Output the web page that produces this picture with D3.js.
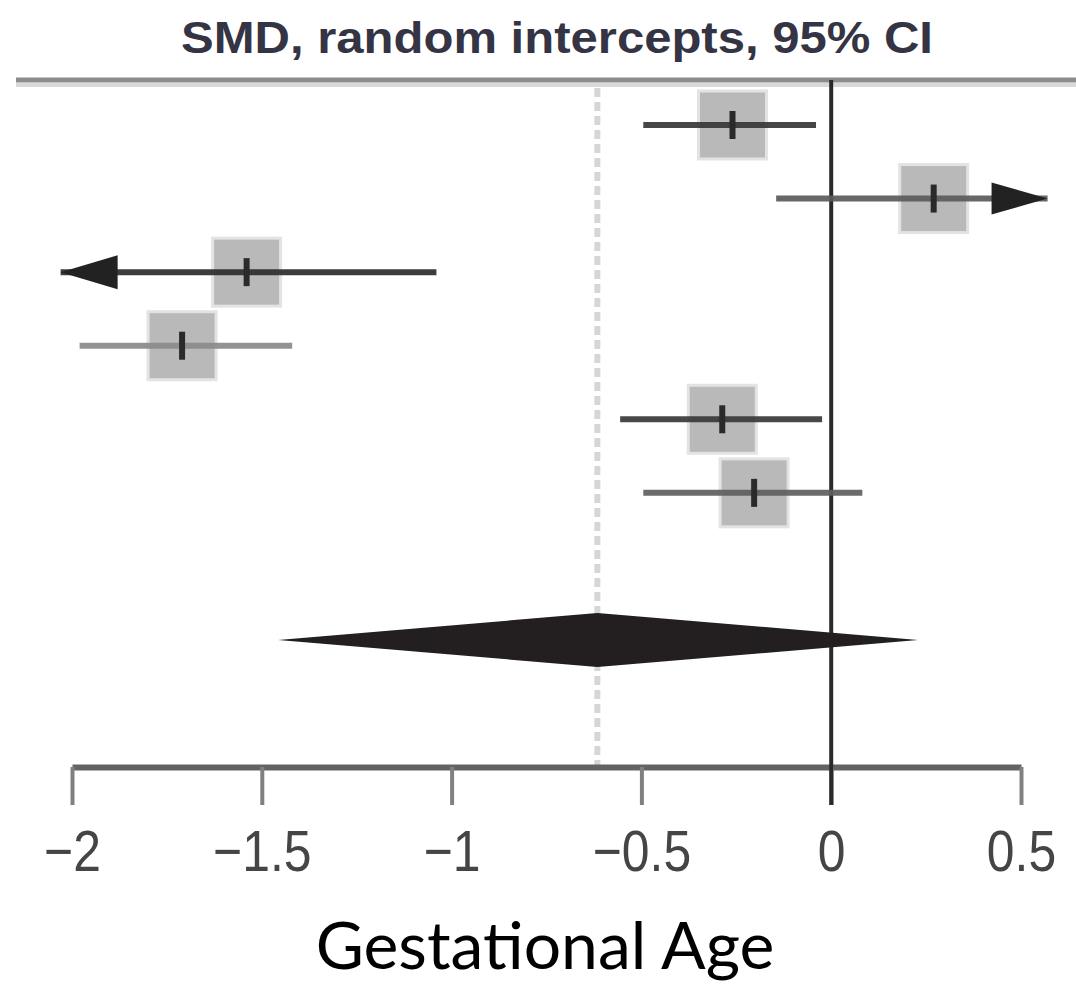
<!DOCTYPE html>
<html>
<head>
<meta charset="utf-8">
<script src="https://cdn.jsdelivr.net/npm/d3@7"></script>
<style>
  body { margin: 0; background: #fff; }
  svg { display: block; }
</style>
</head>
<body>
<div id="chart"></div>
<script>
const width = 1076;
const height = 986;

// study rows (top to bottom), standardised mean differences
const estimates = [-0.26, 0.27, -1.54, -1.71, -0.287, -0.203];
const lower = [-0.495, -0.145, -2.4, -1.98, -0.556, -0.495];
const upper = [-0.04, 0.75, -1.04, -1.42, -0.024, 0.082];

// pooled random intercepts estimate
const pooled = { est: -0.616, lo: -1.457, hi: 0.229 };

const tickValues = [-2, -1.5, -1, -0.5, 0, 0.5];
const titleText = "SMD, random intercepts, 95% CI";
const xLabel = "Gestational Age";

// line shades differ a bit row by row in the original
const lineColors = ["#363636", "#5a5a5a", "#2c2c2c", "#8a8a8a", "#383838", "#5e5e5e"];
const clipLo = -2.03, clipHi = 0.57;

const svg = d3.select('#chart').append('svg')
    .attr('width', width)
    .attr('height', height);

const x = d3.scaleLinear().domain([-2, 0.5]).range([72, 1021]);
const y = d3.scaleLinear().domain([0, 7]).range([125, 640]);
const axisY = 767;

// title
svg.append('text')
    .attr('x', 557)
    .attr('y', 53)
    .attr('text-anchor', 'middle')
    .attr('font-family', 'Liberation Sans, Arial, sans-serif')
    .attr('font-weight', 'bold')
    .attr('font-size', 44)
    .attr('fill', '#343444')
    .attr('textLength', 752)
    .attr('lengthAdjust', 'spacingAndGlyphs')
    .text(titleText);

// top rule
svg.append('line')
    .attr('x1', 16).attr('x2', width)
    .attr('y1', 85).attr('y2', 85)
    .attr('stroke', '#d8d8d8').attr('stroke-width', 4);
svg.append('line')
    .attr('x1', 16).attr('x2', width)
    .attr('y1', 80).attr('y2', 80)
    .attr('stroke', '#8c8c8c').attr('stroke-width', 5);

// dashed line at pooled estimate
svg.append('line')
    .attr('x1', x(pooled.est)).attr('x2', x(pooled.est))
    .attr('y1', 88).attr('y2', axisY - 2)
    .attr('stroke', '#d6d6d6')
    .attr('stroke-width', 6)
    .attr('stroke-dasharray', '9,5');

// axis
const axis = svg.append('g')
    .attr('transform', `translate(0,${axisY})`)
    .call(d3.axisBottom(x).tickValues(tickValues).tickSize(38).tickSizeOuter(0).tickFormat(d3.format('')));
axis.select('.domain').attr('stroke', '#636363').attr('stroke-width', 6);
axis.selectAll('.tick line').attr('stroke', '#808080').attr('stroke-width', 4);
axis.selectAll('.tick text')
    .attr('y', 104)
    .attr('dy', 0)
    .attr('transform', 'scale(0.86,1)')
    .attr('font-family', 'Liberation Sans, Arial, sans-serif')
    .attr('font-size', 58)
    .attr('fill', '#454545');

// zero line
svg.append('line')
    .attr('x1', x(0)).attr('x2', x(0))
    .attr('y1', 80).attr('y2', axisY + 38)
    .attr('stroke', '#2a2a2a').attr('stroke-width', 4);

const rows = estimates.map((e, i) => ({ i, est: e, lo: lower[i], hi: upper[i] }));

const g = svg.append('g').attr('class', 'studies');

// squares
g.selectAll('rect.box')
  .data(rows)
  .join('rect')
    .attr('class', 'box')
    .attr('x', d => x(d.est) - 34)
    .attr('y', d => y(d.i) - 34)
    .attr('width', 68)
    .attr('height', 68)
    .attr('fill', '#b9b9b9')
    .attr('stroke', '#e3e3e3')
    .attr('stroke-width', 3);

// confidence intervals
g.selectAll('line.ci')
  .data(rows)
  .join('line')
    .attr('class', 'ci')
    .attr('x1', d => x(Math.max(d.lo, clipLo)))
    .attr('x2', d => x(Math.min(d.hi, clipHi)))
    .attr('y1', d => y(d.i))
    .attr('y2', d => y(d.i))
    .attr('stroke', d => lineColors[d.i])
    .attr('stroke-opacity', 0.92)
    .attr('stroke-width', 6);

// arrows for intervals running off the plot
g.selectAll('path.arrow')
  .data(rows.filter(d => d.lo < clipLo || d.hi > clipHi))
  .join('path')
    .attr('class', 'arrow')
    .attr('fill', '#222')
    .attr('d', d => {
      const cy = y(d.i);
      if (d.lo < clipLo) {
        const tip = x(clipLo);
        return `M${tip},${cy}L${tip + 57},${cy - 17}L${tip + 57},${cy + 17}Z`;
      }
      const tip = x(clipHi);
      return `M${tip},${cy}L${tip - 56},${cy - 16}L${tip - 56},${cy + 16}Z`;
    });

// point ticks
g.selectAll('rect.pt')
  .data(rows)
  .join('rect')
    .attr('class', 'pt')
    .attr('x', d => x(d.est) - 3)
    .attr('y', d => y(d.i) - 14)
    .attr('width', 6)
    .attr('height', 28)
    .attr('fill', '#2a2a2a');

// pooled diamond
const dy = y(7);
svg.append('path')
    .attr('fill', '#231f20')
    .attr('d', `M${x(pooled.lo)},${dy}L${x(pooled.est)},${dy - 27}L${x(pooled.hi)},${dy}L${x(pooled.est)},${dy + 27}Z`);

// x label
svg.append('text')
    .attr('x', 545)
    .attr('y', 969)
    .attr('text-anchor', 'middle')
    .attr('font-family', 'Lato, Noto Sans, sans-serif')
    .attr('font-size', 66)
    .attr('fill', '#000')
    .text(xLabel);
</script>
</body>
</html>
